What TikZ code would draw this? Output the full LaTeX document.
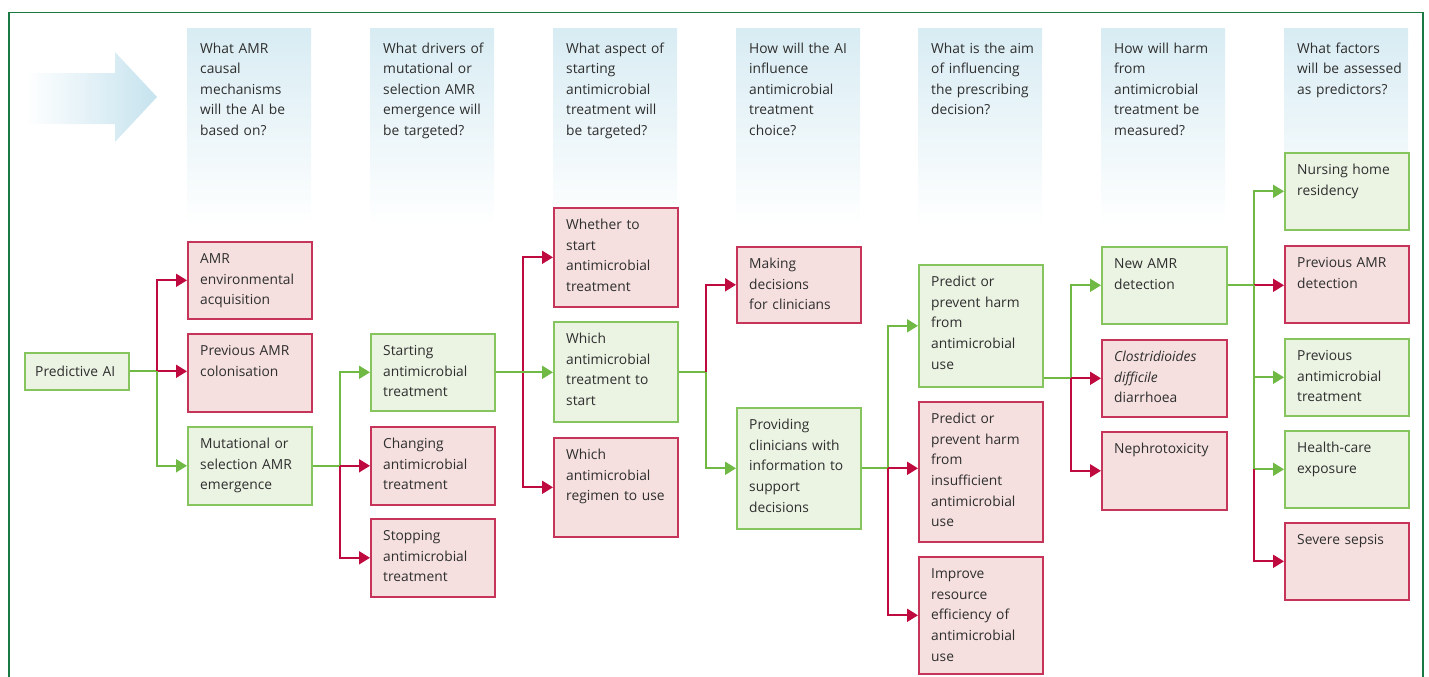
\documentclass[tikz,border=0pt]{standalone}
\usepackage{fontspec}
\setmainfont{Open Sans}
\usetikzlibrary{arrows.meta,calc}

\definecolor{framec}{HTML}{1B7A44}
\definecolor{hdrc}{HTML}{D8ECF3}
\definecolor{arrowc}{HTML}{C6E3EE}
\definecolor{gfill}{HTML}{EBF3E3}
\definecolor{gborder}{HTML}{86C45E}
\definecolor{rfill}{HTML}{F5E0DF}
\definecolor{rborder}{HTML}{C6345A}
\definecolor{glinec}{HTML}{6FB944}
\definecolor{rlinec}{HTML}{BE0A3E}
\definecolor{txtc}{HTML}{2E2E2E}

% box with its text set at the top left
\newcommand\bx[7]{%
  \node[#2, minimum width=#5pt, minimum height=#6pt, anchor=north west] (#1) at (#3,#4) {};
  \node[txt] (#1-t) at ([xshift=13pt,yshift=-6.5pt]#1.north west) {\rule{0pt}{16pt}#7};
}
% pale column header
\newcommand\hdr[3]{%
  \shade[top color=hdrc, bottom color=white] (#2,29) rectangle ++(124,197);
  \node[txt] (#1) at (#2+13,37) {\rule{0pt}{16pt}#3};
}

\begin{document}
\begin{tikzpicture}[x=1pt,y=-1pt,
  txt/.style={anchor=north west, inner sep=0pt, text width=112pt, align=left,
    font=\fontsize{13.8}{20.6}\selectfont, text=txtc},
  gbox/.style={draw=gborder, fill=gfill, line width=1.6pt, inner sep=0pt},
  rbox/.style={draw=rborder, fill=rfill, line width=1.6pt, inner sep=0pt},
  gl/.style={draw=glinec, line width=1.9pt},
  rl/.style={draw=rlinec, line width=1.9pt},
  tip/.style={-{Triangle[length=11pt,width=13pt]}},
]
\useasboundingbox (0,0) rectangle (1429,677);

% outer frame, open at the bottom
\draw[framec, line width=1.6pt] (9,677) -- (9,12.5) -- (1423,12.5) -- (1423,677);

% big pale arrow
\shade[left color=white, right color=arrowc]
  (25,73) -- (115,73) -- (115,52) -- (157,97) -- (115,142) -- (115,124) -- (25,124) -- cycle;

% column questions
\hdr{h1}{187}{What AMR\\causal\\mechanisms\\will the AI be\\based on?}
\hdr{h2}{370}{What drivers of\\mutational or\\selection AMR\\emergence will\\be targeted?}
\hdr{h3}{553}{What aspect of\\starting\\antimicrobial\\treatment will\\be targeted?}
\hdr{h4}{736}{How will the AI\\influence\\antimicrobial\\treatment\\choice?}
\hdr{h5}{918}{What is the aim\\of influencing\\the prescribing\\decision?}
\hdr{h6}{1101}{How will harm\\from\\antimicrobial\\treatment be\\measured?}
\hdr{h7}{1284}{What factors\\will be assessed\\as predictors?}

% root
\node[gbox, minimum width=104pt, minimum height=37pt, anchor=north west] (pai) at (24,352) {};
\node[txt] (pai-t) at (35,360) {\rule{0pt}{16pt}Predictive AI};

% column 1
\bx{env}{rbox}{187}{241}{124}{77}{AMR\\environmental\\acquisition}
\bx{col}{rbox}{187}{333}{124}{78}{Previous AMR\\colonisation}
\bx{mut}{gbox}{187}{426}{124}{78}{Mutational or\\selection AMR\\emergence}
% column 2
\bx{start}{gbox}{370}{333}{124}{77}{Starting\\antimicrobial\\treatment}
\bx{chg}{rbox}{370}{426}{124}{78}{Changing\\antimicrobial\\treatment}
\bx{stop}{rbox}{370}{518}{124}{78}{Stopping\\antimicrobial\\treatment}
% column 3
\bx{whe}{rbox}{553}{207}{124}{99}{Whether to\\start\\antimicrobial\\treatment}
\bx{which}{gbox}{553}{321}{124}{100}{Which\\antimicrobial\\treatment to\\start}
\bx{reg}{rbox}{553}{437}{124}{99}{Which\\antimicrobial\\regimen to use}
% column 4
\bx{mak}{rbox}{736}{246}{124}{76}{Making\\decisions\\for clinicians}
\bx{prov}{gbox}{736}{407}{124}{121}{Providing\\clinicians with\\information to\\support\\decisions}
% column 5
\bx{pred}{gbox}{918}{264}{124}{122}{Predict or\\prevent harm\\from\\antimicrobial\\use}
\bx{ins}{rbox}{918}{401}{124}{140}{Predict or\\prevent harm\\from\\insufficient\\antimicrobial\\use}
\bx{imp}{rbox}{918}{556}{124}{117}{Improve\\resource\\efficiency of\\antimicrobial\\use}
% column 6
\bx{new}{gbox}{1101}{246}{125}{77}{New AMR\\detection}
\bx{clo}{rbox}{1101}{339}{125}{77}{\textit{Clostridioides}\\\textit{difficile}\\diarrhoea}
\bx{nep}{rbox}{1101}{431}{125}{78}{Nephrotoxicity}
% column 7
\bx{nur}{gbox}{1284}{152}{124}{77}{Nursing home\\residency}
\bx{pam}{rbox}{1284}{245}{124}{77}{Previous AMR\\detection}
\bx{pan}{gbox}{1284}{338}{124}{77}{Previous\\antimicrobial\\treatment}
\bx{hce}{gbox}{1284}{430}{124}{77}{Health-care\\exposure}
\bx{sep}{rbox}{1284}{522}{124}{77}{Severe sepsis}

% fan 1
\coordinate (j1) at (pai.east -| 157,0);
\draw[gl] (pai.east) -- (j1);
\draw[rl, tip] (j1) |- (env.west);
\draw[rl, tip] (j1) -- (j1 -| col.west);
\draw[gl, tip] (j1) |- (mut.west);
% fan 2
\coordinate (j2) at (mut.east -| 340,0);
\draw[gl] (mut.east) -- (j2);
\draw[gl, tip] (j2) |- (start.west);
\draw[rl, tip] (j2) -- (j2 -| chg.west);
\draw[rl, tip] (j2) |- (stop.west);
% fan 3
\coordinate (j3) at (start.east -| 523,0);
\draw[rl, tip] (j3) |- (whe.west);
\draw[rl, tip] (j3) |- (reg.west);
\draw[gl, tip] (start.east) -- (start.east -| which.west);
% fan 4
\coordinate (j4) at (which.east -| 706,0);
\draw[gl] (which.east) -- (j4);
\draw[rl, tip] (j4) |- (mak.west);
\draw[gl, tip] (j4) |- (prov.west);
% fan 5
\coordinate (j5) at (prov.east -| 888,0);
\draw[gl] (prov.east) -- (j5);
\draw[gl, tip] (j5) |- (pred.west);
\draw[rl, tip] (j5) -- (j5 -| ins.west);
\draw[rl, tip] (j5) |- (imp.west);
% fan 6
\coordinate (j6) at (clo.west -| 1071,0);
\draw[gl] (pred.east |- j6) -- (j6);
\draw[gl, tip] (j6) |- (new.west);
\draw[rl, tip] (j6) -- (clo.west);
\draw[rl, tip] (j6) |- (nep.west);
% fan 7
\coordinate (j7) at (new.east -| 1254,0);
\coordinate (j7b) at (j7 |- hce.west);
\draw[gl] (new.east) -- (j7);
\draw[gl, tip] (j7) |- (nur.west);
\draw[rl, tip] (j7) -- (j7 -| pam.west);
\draw[gl, tip] (j7) |- (pan.west);
\draw[gl, tip] (j7) |- (hce.west);
\draw[rl, tip] (j7b) |- (sep.west);
\end{tikzpicture}
\end{document}
